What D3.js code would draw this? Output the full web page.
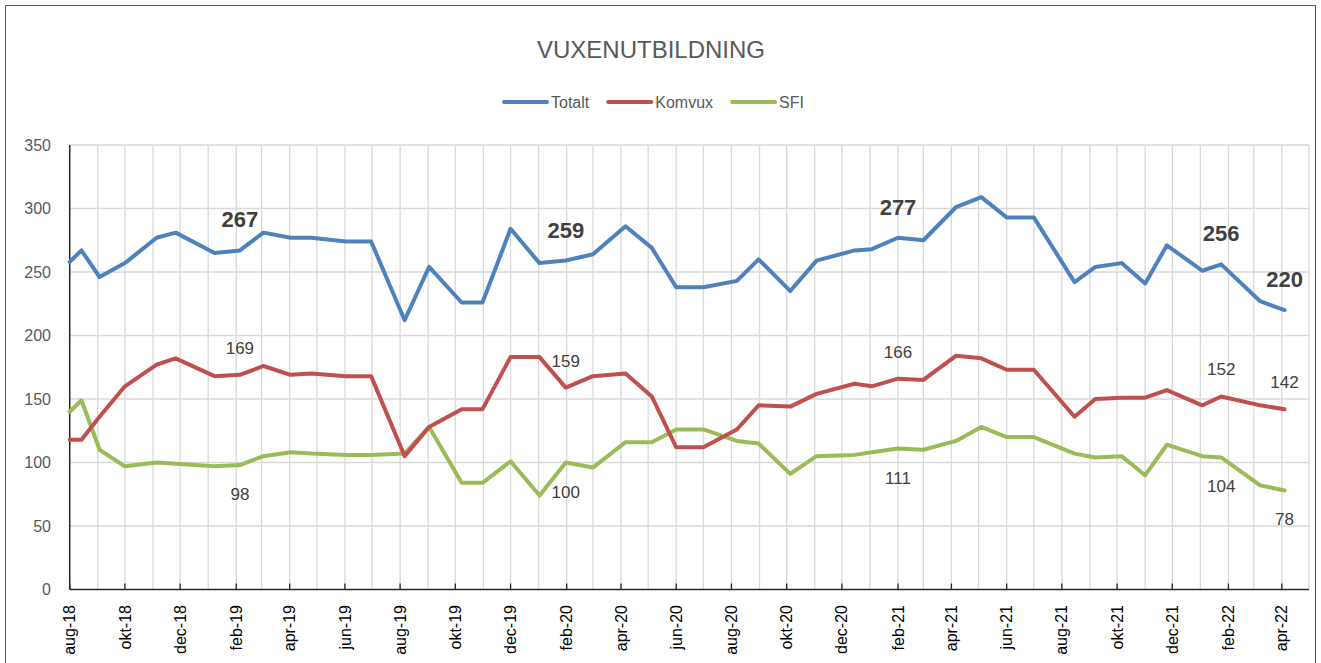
<!DOCTYPE html>
<html>
<head>
<meta charset="utf-8">
<script src="https://cdn.jsdelivr.net/npm/d3@7"></script>
<style>
  body { margin: 0; background: #fff; }
  svg { font-family: "Liberation Sans", Arial, sans-serif; }
</style>
</head>
<body>
<svg width="1321" height="663"></svg>
<script>
// dates of the readings
var dates = [
  "2018-08-01", "2018-08-14", "2018-09-03", "2018-10-01", "2018-11-05", "2018-11-26",
  "2019-01-08", "2019-02-05", "2019-03-03", "2019-04-02", "2019-04-25", "2019-06-02",
  "2019-06-30", "2019-08-06", "2019-09-02", "2019-10-08", "2019-10-31", "2019-12-01",
  "2020-01-02", "2020-01-31", "2020-03-01", "2020-04-06", "2020-05-05", "2020-06-01",
  "2020-07-01", "2020-08-07", "2020-08-31", "2020-10-05", "2020-11-03", "2020-12-15",
  "2021-01-03", "2021-02-01", "2021-03-01", "2021-04-06", "2021-05-04", "2021-06-01",
  "2021-07-01", "2021-08-15", "2021-09-07", "2021-10-06", "2021-11-01", "2021-11-25",
  "2022-01-03", "2022-01-24", "2022-03-08", "2022-04-04"
];

var totalt = [258, 267, 246, 257, 277, 281, 265, 267, 281, 277, 277, 274, 274, 212, 254, 226,
  226, 284, 257, 259, 264, 286, 269, 238, 238, 243, 260, 235, 259, 267, 268, 277, 275, 301,
  309, 293, 293, 242, 254, 257, 241, 271, 251, 256, 227, 220];

var komvux = [118, 118, 136, 160, 177, 182, 168, 169, 176, 169, 170, 168, 168, 105, 128, 142,
  142, 183, 183, 159, 168, 170, 152, 112, 112, 126, 145, 144, 154, 162, 160, 166, 165, 184,
  182, 173, 173, 136, 150, 151, 151, 157, 145, 152, 145, 142];

var sfi = [140, 149, 110, 97, 100, 99, 97, 98, 105, 108, 107, 106, 106, 107, 128, 84,
  84, 101, 74, 100, 96, 116, 116, 126, 126, 117, 115, 91, 105, 106, 108, 111, 110, 117,
  128, 120, 120, 107, 104, 105, 90, 114, 105, 104, 82, 78];

var seriesNames = ["Totalt", "Komvux", "SFI"];
var yTicks = [0, 50, 100, 150, 200, 250, 300, 350];
var monthNames = ["jan", "feb", "mar", "apr", "maj", "jun", "jul", "aug", "sep", "okt", "nov", "dec"];

// indices that carry a value label
var labelIdx = [7, 19, 31, 43, 45];

var colors = ["#4f81bd", "#c0504d", "#9bbb59"];

window.addEventListener("load", main);

function main() {
  var svg = d3.select("svg");
  var parse = d3.timeParse("%Y-%m-%d");
  var dts = dates.map(parse);

  var x = d3.scaleTime()
    .domain([new Date(2018, 7, 1), new Date(2022, 4, 1)])
    .range([69.7, 1309]);
  var y = d3.scaleLinear().domain([0, 350]).range([589.5, 145]);

  // chart border
  svg.append("rect")
    .attr("x", 5.5).attr("y", 5.5)
    .attr("width", 1310).attr("height", 700)
    .attr("fill", "none").attr("stroke", "#595959").attr("stroke-width", 1);

  // title
  svg.append("text")
    .attr("x", 651).attr("y", 58)
    .attr("text-anchor", "middle")
    .attr("font-size", 24)
    .attr("fill", "#595959")
    .text("VUXENUTBILDNING");

  // gridlines
  var months = d3.timeMonth.range(new Date(2018, 7, 1), new Date(2022, 4, 2));
  svg.append("g").selectAll("line")
    .data(months)
    .enter().append("line")
    .attr("x1", function(d) { return x(d); })
    .attr("x2", function(d) { return x(d); })
    .attr("y1", y(350)).attr("y2", y(0))
    .attr("stroke", "#d9d9d9").attr("stroke-width", 1.3);

  svg.append("g").selectAll("line")
    .data(yTicks.filter(function(d) { return d > 0; }))
    .enter().append("line")
    .attr("x1", x.range()[0]).attr("x2", x.range()[1])
    .attr("y1", function(d) { return y(d); })
    .attr("y2", function(d) { return y(d); })
    .attr("stroke", "#d9d9d9").attr("stroke-width", 1.3);

  // y axis labels
  svg.append("g").selectAll("text")
    .data(yTicks)
    .enter().append("text")
    .attr("x", 51)
    .attr("y", function(d) { return y(d); })
    .attr("dy", "0.36em")
    .attr("text-anchor", "end")
    .attr("font-size", 16)
    .attr("fill", "#595959")
    .text(function(d) { return d; });

  // x axis: ticks and labels every second month
  var labelMonths = months.filter(function(d, i) { return i % 2 == 0 && d < x.domain()[1]; });
  var fmt = function(d) {
    return monthNames[d.getMonth()] + "-" + d3.timeFormat("%y")(d);
  };

  svg.append("g").selectAll("line")
    .data(labelMonths)
    .enter().append("line")
    .attr("x1", function(d) { return x(d); })
    .attr("x2", function(d) { return x(d); })
    .attr("y1", y(0) - 6).attr("y2", y(0))
    .attr("stroke", "#262626").attr("stroke-width", 1.3);

  svg.append("g").selectAll("text")
    .data(labelMonths)
    .enter().append("text")
    .attr("transform", function(d) { return "translate(" + x(d) + ",605) rotate(-90)"; })
    .attr("dy", "0.35em")
    .attr("text-anchor", "end")
    .attr("font-size", 16)
    .attr("fill", "#000")
    .text(fmt);

  // axis lines
  svg.append("line")
    .attr("x1", x.range()[0]).attr("x2", x.range()[0])
    .attr("y1", y(350)).attr("y2", y(0))
    .attr("stroke", "#262626").attr("stroke-width", 1.5);
  svg.append("line")
    .attr("x1", x.range()[0]).attr("x2", x.range()[1])
    .attr("y1", y(0)).attr("y2", y(0))
    .attr("stroke", "#262626").attr("stroke-width", 1.5);

  // series lines
  var all = [totalt, komvux, sfi];
  var line = d3.line()
    .x(function(d, i) { return x(dts[i]); })
    .y(function(d) { return y(d); });

  // draw SFI first, Totalt last
  [2, 1, 0].forEach(function(s) {
    svg.append("path")
      .datum(all[s])
      .attr("d", line)
      .attr("fill", "none")
      .attr("stroke", colors[s])
      .attr("stroke-width", 4)
      .attr("stroke-linejoin", "round")
      .attr("stroke-linecap", "round");
  });

  // value labels
  var lbl = svg.append("g").attr("fill", "#404040");
  labelIdx.forEach(function(i) {
    lbl.append("text")
      .attr("x", x(dts[i])).attr("y", y(totalt[i]) - 23)
      .attr("text-anchor", "middle")
      .attr("font-size", 22).attr("font-weight", "bold")
      .text(totalt[i]);
    lbl.append("text")
      .attr("x", x(dts[i])).attr("y", y(komvux[i]) - 21)
      .attr("text-anchor", "middle")
      .attr("font-size", 17)
      .text(komvux[i]);
    lbl.append("text")
      .attr("x", x(dts[i])).attr("y", y(sfi[i]) + 35)
      .attr("text-anchor", "middle")
      .attr("font-size", 17)
      .text(sfi[i]);
  });

  // legend
  var lx = 504;
  var legend = svg.append("g");
  seriesNames.forEach(function(name, i) {
    legend.append("line")
      .attr("x1", lx).attr("x2", lx + 43)
      .attr("y1", 102).attr("y2", 102)
      .attr("stroke", colors[i]).attr("stroke-width", 4)
      .attr("stroke-linecap", "round");
    var t = legend.append("text")
      .attr("x", lx + 47).attr("y", 102)
      .attr("dy", "0.36em")
      .attr("font-size", 16)
      .attr("fill", "#595959")
      .text(name);
    lx += 47 + t.node().getComputedTextLength() + 19;
  });
}
</script>
</body>
</html>
